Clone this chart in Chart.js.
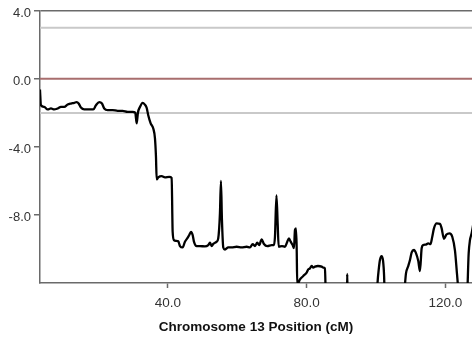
<!DOCTYPE html>
<html>
<head>
<meta charset="utf-8">
<script src="https://cdn.jsdelivr.net/npm/chart.js@4/dist/chart.umd.min.js"></script>
<style>
  html, body { margin: 0; padding: 0; background: #fff; }
  #wrap { width: 472px; height: 340px; }
</style>
</head>
<body>
<div id="wrap"><canvas id="c" width="472" height="340"></canvas></div>
<script>
// LOD profile along chromosome 13 (positions in cM)
const positions = [
  3.09, 3.37, 4.33, 5.31, 6.26, 7.21, 8.19, 9.14, 10.10, 11.08, 12.03, 12.98, 13.67, 14.25, 14.91,
  15.86, 17.31, 18.46, 19.24, 20.19, 20.97, 21.63, 22.61, 24.06, 25.50, 26.94, 28.38, 29.82, 30.57,
  30.98, 31.35, 31.93, 32.71, 33.29, 33.86, 34.32, 35.02, 35.77, 36.26, 36.55, 36.75, 37.21, 38.19,
  39.14, 40.38, 41.07, 41.36, 41.74, 42.31, 42.98, 43.47, 44.25, 44.91, 45.57, 46.15, 46.64, 47.13,
  47.50, 48.28, 49.24, 50.68, 51.63, 52.12, 52.61, 53.07, 54.05, 54.51, 55.00, 55.29, 55.58, 55.96,
  56.45, 57.40, 58.38, 59.82, 61.26, 62.71, 63.66, 64.44, 65.10, 65.76, 66.34, 67.03, 67.70, 68.65,
  69.92, 70.58, 70.87, 71.30, 71.65, 71.94, 72.89, 73.75, 74.42, 74.91, 75.40, 75.97, 76.35, 76.64,
  76.93, 77.13, 77.30, 78.08, 79.03, 80.01, 80.47, 80.96, 81.45, 81.92, 82.41, 83.27, 84.34, 84.80,
  85.29, 85.58, 88.50, 91.60, 91.72, 91.85, 96.00, 100.20, 100.45, 100.80, 101.15, 101.60, 102.05,
  102.35, 102.55, 105.00, 107.90, 108.66, 109.32, 109.81, 110.30, 110.96, 111.54, 112.20, 112.69,
  113.18, 113.64, 114.42, 115.08, 115.72, 116.24, 116.73, 117.51, 118.46, 118.95, 119.61, 120.33,
  121.20, 122.01, 122.79, 123.28, 123.66, 123.90, 125.00, 126.20, 126.74, 127.11, 127.60, 128.27
];
const lodScores = [
  -0.63, -1.55, -1.65, -1.80, -1.74, -1.80, -1.74, -1.65, -1.65, -1.51, -1.45, -1.41, -1.37, -1.45, -1.69,
  -1.80, -1.80, -1.80, -1.55, -1.37, -1.45, -1.74, -1.84, -1.84, -1.88, -1.88, -1.94, -1.94, -1.98,
  -2.62, -1.98, -1.65, -1.41, -1.50, -1.70, -2.14, -2.62, -2.92, -3.50, -4.58, -5.91, -5.79, -5.72,
  -5.79, -5.76, -5.82, -8.99, -9.48, -9.52, -9.55, -9.83, -9.91, -9.57, -9.38, -9.18, -8.99, -9.18,
  -9.57, -9.83, -9.83, -9.85, -9.77, -9.63, -9.83, -9.70, -9.57, -9.38, -7.91, -6.00, -8.30, -9.91,
  -10.03, -9.91, -9.91, -9.87, -9.91, -9.87, -9.91, -9.71, -9.83, -9.63, -9.77, -9.43, -9.71, -9.83,
  -9.77, -9.77, -9.28, -6.85, -8.50, -9.87, -9.83, -9.87, -9.57, -9.38, -9.57, -9.77, -9.95, -8.89,
  -8.79, -9.90, -12.10, -11.79, -11.59, -11.39, -11.20, -11.14, -11.00, -11.10, -11.04, -11.00, -11.04, -11.10,
  -11.14, -13.00, -13.00, -13.00, -11.47, -13.00, -13.00, -13.00, -12.00, -11.20, -10.65, -10.42, -10.70,
  -11.60, -13.00, -13.00, -13.00, -11.43, -11.00, -10.65, -10.20, -10.06, -10.24, -10.70, -11.30,
  -9.96, -9.77, -9.74, -9.67, -9.72, -9.28, -8.79, -8.50, -8.52, -8.79, -9.40, -9.15,
  -9.08, -9.28, -10.10, -11.24, -12.20, -13.00, -13.00, -13.00, -10.26, -9.48, -9.08, -8.30
];
// Significance / reference levels
const thresholdLevels = [3.0, 0.0, -2.0];
const thresholdColors = ['#c9c9c9', '#a86e6e', '#c9c9c9'];
const yTickValues = [4, 0, -4, -8];
const xTickValues = [40, 80, 120];
const xMin = 3.1, xMax = 127.7, yMin = -12, yMax = 4;

const profile = positions.map((p, i) => ({ x: p, y: lodScores[i] }));

const thresholdSets = thresholdLevels.map((lvl, i) => ({
  data: [{ x: xMin, y: lvl }, { x: xMax, y: lvl }],
  borderColor: thresholdColors[i],
  borderWidth: 2,
  pointRadius: 0,
  order: 2
}));

const axisColor = '#6a6a6a';
const family = 'Liberation Sans, Arial, sans-serif';

new Chart(document.getElementById('c'), {
  type: 'line',
  data: {
    datasets: [
      {
        data: profile,
        borderColor: '#000',
        borderWidth: 2.3,
        pointRadius: 0,
        cubicInterpolationMode: 'monotone',
        clip: 0,
        order: 1
      },
      ...thresholdSets
    ]
  },
  options: {
    responsive: false,
    animation: false,
    events: [],
    layout: { padding: { top: 10, right: 0, bottom: 0, left: 0 } },
    plugins: { legend: { display: false }, tooltip: { enabled: false } },
    scales: {
      x: {
        type: 'linear',
        min: xMin,
        max: xMax,
        afterBuildTicks: s => { s.ticks = xTickValues.map(v => ({ value: v })); },
        afterFit: s => { s.height = 57; },
        ticks: {
          color: '#333',
          font: { family, size: 13.5 },
          padding: 7,
          maxRotation: 0,
          callback: v => v.toFixed(1)
        },
        grid: { drawOnChartArea: false, drawTicks: true, tickLength: 5, tickColor: axisColor, tickWidth: 1.5 },
        border: { display: true, color: axisColor, width: 1.5 },
        title: {
          display: true,
          text: 'Chromosome 13 Position (cM)',
          color: '#111',
          font: { family, size: 13.5, weight: 'bold' },
          padding: { top: 0, bottom: 5 }
        }
      },
      y: {
        type: 'linear',
        min: yMin,
        max: yMax,
        afterBuildTicks: s => { s.ticks = yTickValues.map(v => ({ value: v })); },
        afterFit: s => { s.width = 40; },
        ticks: {
          color: '#333',
          font: { family, size: 13 },
          padding: 3,
          labelOffset: 2.5,
          callback: v => v.toFixed(1)
        },
        grid: {
          drawOnChartArea: true,
          drawTicks: true,
          tickLength: 6,
          tickColor: axisColor,
          tickWidth: 1.5,
          lineWidth: 1.5,
          color: ctx => (ctx.tick && ctx.tick.value === yMax) ? axisColor : 'rgba(0,0,0,0)'
        },
        border: { display: true, color: axisColor, width: 1.5 }
      }
    }
  }
});
</script>
</body>
</html>
